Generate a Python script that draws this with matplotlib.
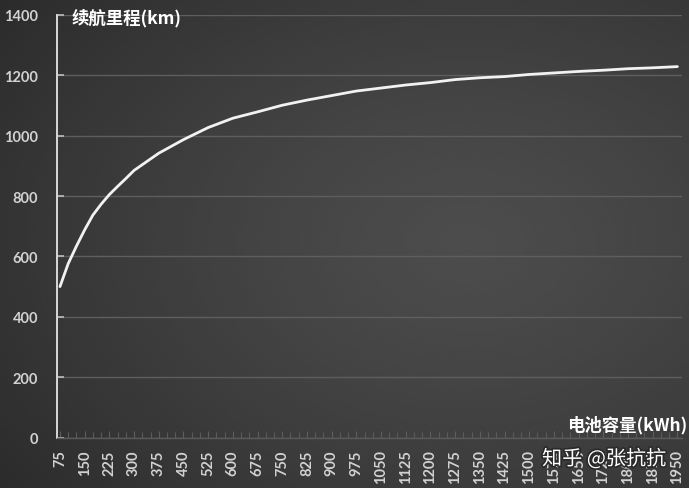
import numpy as np
import matplotlib
matplotlib.use("Agg")
import matplotlib.pyplot as plt
import matplotlib.patheffects as pe
from matplotlib.ticker import MultipleLocator

# Data
capacity_kwh = [75, 100, 125, 150, 175, 200, 225, 250, 275, 300, 375, 450, 525, 600,
                675, 750, 825, 900, 975, 1050, 1125, 1200, 1275, 1350, 1425, 1500,
                1575, 1650, 1725, 1800, 1875, 1950]
range_km = [500, 576, 634, 688, 737, 773, 805, 832, 858, 885, 942, 987, 1027, 1058,
            1079, 1101, 1118, 1133, 1148, 1158, 1168, 1176, 1186, 1192, 1196, 1203,
            1208, 1213, 1217, 1222, 1225, 1229]
x_tick_values = list(range(75, 1951, 75))
y_ticks = [0, 200, 400, 600, 800, 1000, 1200, 1400]
y_title = "续航里程(km)"
x_title = "电池容量(kWh)"
watermark = "知乎 @张抗抗"

W, H = 689, 489
fig = plt.figure(figsize=(W / 100, H / 100), dpi=100)

# background gradient (vignette, lighter towards centre-right)
bg = fig.add_axes([0, 0, 1, 1], zorder=-10)
yy, xx = np.mgrid[0:1:200j, 0:1:300j]
d = np.sqrt(((xx - 0.68) / 1.0) ** 2 + ((yy - 0.5) / 1.0) ** 2)
val = 0.30 - 0.16 * d ** 1.3
val = np.clip(val, 0.15, 0.31)
bg.imshow(val, cmap="gray", vmin=0, vmax=1, extent=[0, 1, 0, 1],
          aspect="auto", origin="lower", interpolation="bicubic")
bg.set_axis_off()

ax = fig.add_axes([57 / W, 1 - 438.5 / H, (682 - 57) / W, (438.5 - 16) / H])
ax.patch.set_alpha(0)
ax.plot(capacity_kwh, range_km, color="#f2f2f2", lw=2.0, solid_capstyle="round",
        solid_joinstyle="round", zorder=3)

ax.set_ylim(0, 1400)
ax.set_xlim(66, 1964)
ax.set_yticks(y_ticks)
ax.set_xticks(x_tick_values)
ax.xaxis.set_minor_locator(MultipleLocator(25))

tick_font = dict(family=["Lato", "DejaVu Sans"], weight="bold", size=10.5)
ax.set_yticklabels([str(v) for v in y_ticks], color="#d2d2d2", **tick_font)
ax.set_xticklabels([str(v) for v in x_tick_values], rotation=90, color="#d2d2d2",
                   **tick_font)

ax.grid(axis="y", color="#5e5e5e", lw=1.0, zorder=1)
for s in ["top", "right"]:
    ax.spines[s].set_visible(False)
ax.spines["left"].set_color("#d8d8d8")
ax.spines["left"].set_linewidth(1.4)
ax.spines["bottom"].set_color("#5a5a5a")
ax.spines["bottom"].set_linewidth(1.0)

ax.tick_params(axis="y", direction="in", length=5, width=1.2, color="#bdbdbd",
               pad=13.5)
ax.tick_params(axis="x", which="major", direction="in", length=5, width=0.8,
               color="#5e5e5e", pad=8.5)
ax.tick_params(axis="x", which="minor", direction="in", length=4, width=0.8,
               color="#5a5a5a")

cjk = ["Noto Sans CJK SC", "DejaVu Sans"]
fig.text(72 / W, 1 - 18 / H, y_title, color="white", fontsize=12.5,
         family=cjk, weight="bold", ha="left", va="center")
fig.text(687 / W, 1 - 425 / H, x_title, color="white", fontsize=12.5,
         family=cjk, weight="bold", ha="right", va="center")
fig.text(542 / W, 1 - 460 / H, watermark, color="white", fontsize=14.5,
         family=cjk, ha="left", va="center", zorder=5,
         path_effects=[pe.withStroke(linewidth=2.5, foreground="#2a2a2a")])

fig.savefig("out.png", dpi=100)
